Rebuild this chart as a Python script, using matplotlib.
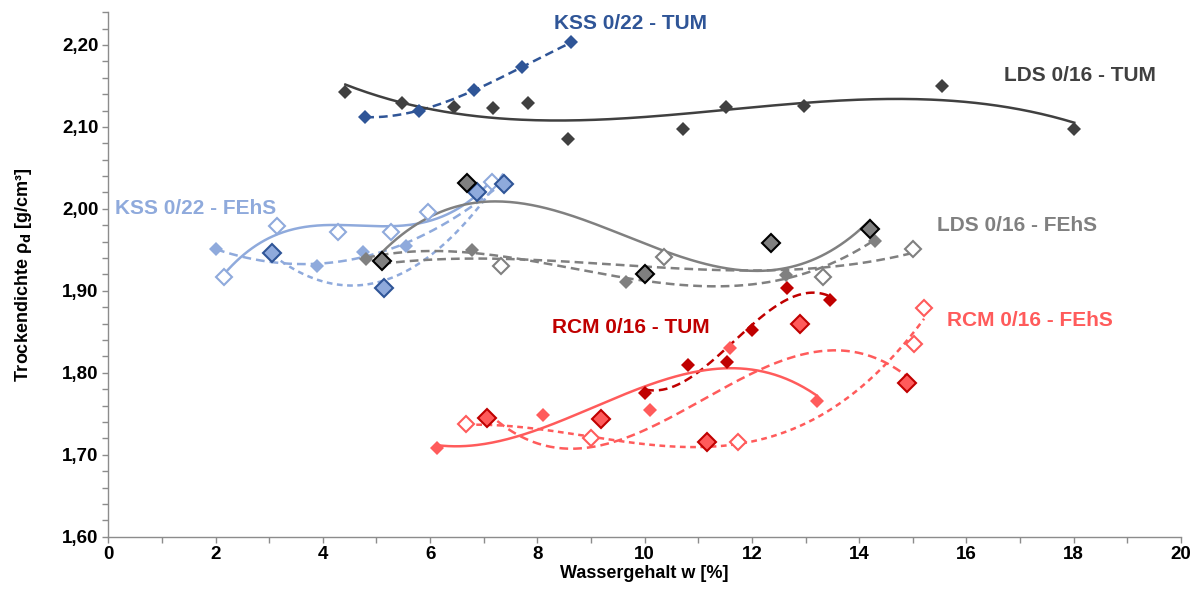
import numpy as np
import matplotlib.pyplot as plt
from matplotlib.ticker import MultipleLocator, FuncFormatter

plt.rcParams['font.family'] = ['Liberation Sans', 'DejaVu Sans']
plt.rcParams['font.weight'] = 'bold'

# KSS 0/22
kss_tum_w = [4.79, 5.80, 6.82, 7.72, 8.63]
kss_tum_r = [2.112, 2.120, 2.145, 2.173, 2.203]
kss_open_w = [2.16, 3.15, 4.29, 5.27, 5.96, 7.16]
kss_open_r = [1.917, 1.979, 1.972, 1.972, 1.996, 2.033]
kss_fill_w = [2.01, 3.90, 4.75, 5.55, 7.35]
kss_fill_r = [1.951, 1.930, 1.947, 1.955, 2.032]
kss_edge_w = [3.06, 5.14, 6.88, 7.38]
kss_edge_r = [1.946, 1.904, 2.021, 2.030]

# LDS 0/16
lds_tum_w = [4.42, 5.48, 6.45, 7.18, 7.83, 8.57, 10.71, 11.52, 12.97, 15.54, 18.01]
lds_tum_r = [2.143, 2.129, 2.124, 2.123, 2.129, 2.085, 2.098, 2.124, 2.126, 2.150, 2.098]
lds_edge_w = [5.11, 6.69, 10.01, 12.36, 14.20]
lds_edge_r = [1.936, 2.032, 1.921, 1.958, 1.975]
lds_fill_w = [4.81, 6.78, 9.65, 12.64, 14.30]
lds_fill_r = [1.939, 1.950, 1.911, 1.919, 1.961]
lds_open_w = [5.11, 7.33, 10.36, 13.33, 15.00]
lds_open_r = [1.936, 1.930, 1.941, 1.917, 1.951]

# RCM 0/16
rcm_tum_w = [10.01, 10.81, 11.53, 12.00, 12.65, 13.46]
rcm_tum_r = [1.775, 1.810, 1.813, 1.852, 1.904, 1.889]
rcm_fill_w = [6.13, 8.11, 10.10, 11.59, 13.21]
rcm_fill_r = [1.708, 1.749, 1.755, 1.830, 1.766]
rcm_edge_w = [7.06, 9.19, 11.16, 12.90, 14.89]
rcm_edge_r = [1.745, 1.744, 1.715, 1.860, 1.787]
rcm_open_w = [6.67, 9.00, 11.74, 15.02, 15.21]
rcm_open_r = [1.737, 1.720, 1.716, 1.835, 1.879]

c_kss_tum = '#2F5597'
c_kss = '#8FAADC'
c_lds_tum = '#404040'
c_lds = '#808080'
c_rcm_tum = '#C00000'
c_rcm = '#FF5B5B'

def trend( w, r, deg = 3 ):
    c = np.polyfit( w, r, deg )
    xs = np.linspace( min( w ), max( w ), 200 )
    return xs, np.polyval( c, xs )

fig = plt.figure( figsize = (12.02, 5.94), dpi = 100 )
ax = fig.add_axes( [0.0901, 0.0965, 0.8924, 0.883] )

lw = 1.8
dash_l = (3.5, 2.0)
dash_s = (2.3, 1.8)

# trendlines: w, rho, colour, dashes, polynomial order
series = [
    ( kss_tum_w,  kss_tum_r,  c_kss_tum, dash_l, 3 ),
    ( kss_open_w, kss_open_r, c_kss,     None,   3 ),
    ( kss_fill_w, kss_fill_r, c_kss,     dash_l, 3 ),
    ( kss_edge_w, kss_edge_r, c_kss,     dash_s, 2 ),
    ( lds_tum_w,  lds_tum_r,  c_lds_tum, None,   3 ),
    ( lds_edge_w, lds_edge_r, c_lds,     None,   3 ),
    ( lds_fill_w, lds_fill_r, c_lds,     dash_l, 3 ),
    ( lds_open_w, lds_open_r, c_lds,     dash_l, 3 ),
    ( rcm_tum_w,  rcm_tum_r,  c_rcm_tum, dash_l, 3 ),
    ( rcm_fill_w, rcm_fill_r, c_rcm,     None,   3 ),
    ( rcm_edge_w, rcm_edge_r, c_rcm,     dash_l, 3 ),
    ( rcm_open_w, rcm_open_r, c_rcm,     dash_s, 3 ),
]
for w, r, col, ds, deg in series:
    xs, ys = trend( w, r, deg )
    line, = ax.plot( xs, ys, color = col, lw = lw, zorder = 2 )
    if ds is not None:
        line.set_dashes( ds )

# markers
ms_f = 7.6
ms_e = 8.8
ms_o = 8.0

ax.plot( kss_tum_w, kss_tum_r, 'D', color = c_kss_tum, ms = ms_f, mew = 0, zorder = 3 )
ax.plot( lds_tum_w, lds_tum_r, 'D', color = c_lds_tum, ms = ms_f, mew = 0, zorder = 3 )

ax.plot( lds_open_w, lds_open_r, 'D', mfc = 'white', mec = c_lds, ms = ms_o, mew = 1.5, zorder = 3 )
ax.plot( kss_open_w, kss_open_r, 'D', mfc = 'white', mec = c_kss, ms = ms_o, mew = 1.5, zorder = 4 )
ax.plot( rcm_open_w, rcm_open_r, 'D', mfc = 'white', mec = c_rcm, ms = ms_o, mew = 1.5, zorder = 4 )

ax.plot( kss_fill_w, kss_fill_r, 'D', color = c_kss, ms = ms_f, mew = 0, zorder = 4 )
ax.plot( lds_fill_w, lds_fill_r, 'D', color = c_lds, ms = ms_f, mew = 0, zorder = 4 )
ax.plot( rcm_fill_w, rcm_fill_r, 'D', color = c_rcm, ms = ms_f, mew = 0, zorder = 4 )
ax.plot( rcm_tum_w, rcm_tum_r, 'D', color = c_rcm_tum, ms = ms_f, mew = 0, zorder = 4 )

ax.plot( kss_edge_w, kss_edge_r, 'D', mfc = c_kss, mec = c_kss_tum, ms = ms_e, mew = 1.5, zorder = 5 )
ax.plot( lds_edge_w, lds_edge_r, 'D', mfc = c_lds, mec = 'black', ms = ms_e, mew = 1.5, zorder = 5 )
ax.plot( rcm_edge_w, rcm_edge_r, 'D', mfc = c_rcm, mec = c_rcm_tum, ms = ms_e, mew = 1.5, zorder = 5 )

# labels
fs = 15
ax.text( 9.73, 2.226, 'KSS 0/22 - TUM', color = c_kss_tum, fontsize = fs, fontweight = 'bold', ha = 'center', va = 'center' )
ax.text( 18.11, 2.163, 'LDS 0/16 - TUM', color = c_lds_tum, fontsize = fs, fontweight = 'bold', ha = 'center', va = 'center' )
ax.text( 1.62, 2.001, 'KSS 0/22 - FEhS', color = c_kss, fontsize = fs, fontweight = 'bold', ha = 'center', va = 'center' )
ax.text( 16.94, 1.980, 'LDS 0/16 - FEhS', color = c_lds, fontsize = fs, fontweight = 'bold', ha = 'center', va = 'center' )
ax.text( 9.74, 1.855, 'RCM 0/16 - TUM', color = c_rcm_tum, fontsize = fs, fontweight = 'bold', ha = 'center', va = 'center' )
ax.text( 17.18, 1.864, 'RCM 0/16 - FEhS', color = c_rcm, fontsize = fs, fontweight = 'bold', ha = 'center', va = 'center' )

ax.set_xlim( 0, 20 )
ax.set_ylim( 1.60, 2.24 )
ax.xaxis.set_major_locator( MultipleLocator( 2 ) )
ax.xaxis.set_minor_locator( MultipleLocator( 1 ) )
ax.yaxis.set_major_locator( MultipleLocator( 0.1 ) )
ax.yaxis.set_minor_locator( MultipleLocator( 0.02 ) )
ax.yaxis.set_major_formatter( FuncFormatter( lambda v, p: '{:.2f}'.format( v ).replace( '.', ',' ) ) )
ax.xaxis.set_major_formatter( FuncFormatter( lambda v, p: '{:.0f}'.format( v ) ) )

for s in [ 'top', 'right' ]:
    ax.spines[s].set_visible( False )
for s in [ 'left', 'bottom' ]:
    ax.spines[s].set_color( '#8C8C8C' )
    ax.spines[s].set_linewidth( 1.0 )
ax.tick_params( which = 'both', direction = 'out', color = '#8C8C8C', length = 4, width = 1.0 )
ax.tick_params( which = 'major', labelsize = 13.5, pad = 3 )
for lab in ax.get_xticklabels() + ax.get_yticklabels():
    lab.set_fontweight( 'bold' )

ax.set_xlabel( 'Wassergehalt w [%]', fontsize = 13, fontweight = 'bold', labelpad = 1 )
ax.set_ylabel( 'Trockendichte ρ$_\\mathbf{d}$ [g/cm³]', fontsize = 13, fontweight = 'bold', labelpad = 20 )

fig.savefig( 'out.png', dpi = 100 )
plt.close()
